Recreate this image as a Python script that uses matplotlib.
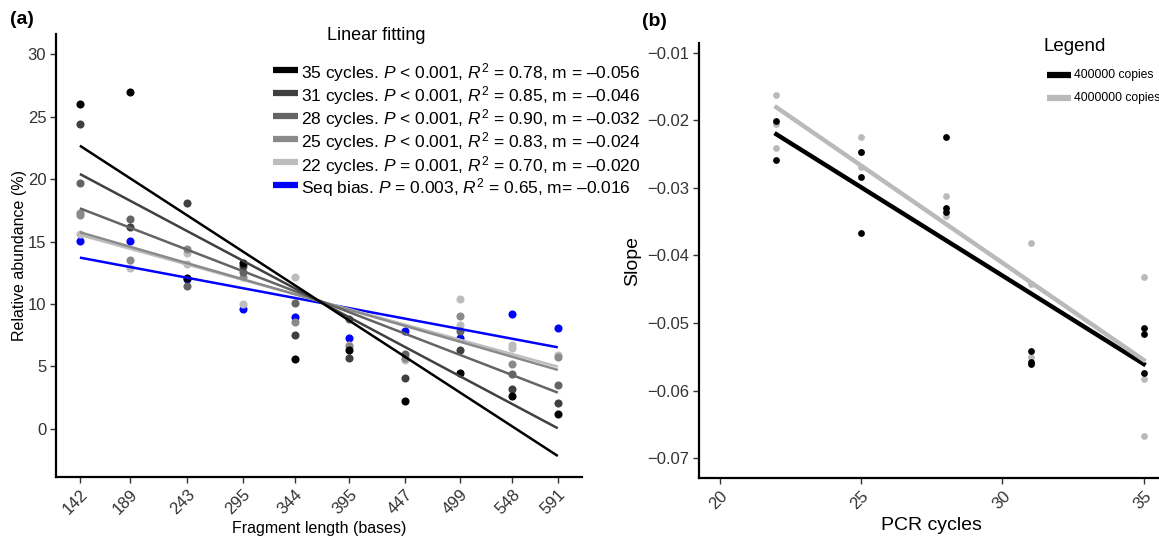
import numpy as np
import matplotlib
matplotlib.use("Agg")
import matplotlib.pyplot as plt
from matplotlib.lines import Line2D

plt.rcParams['font.family'] = ['Liberation Sans', 'DejaVu Sans']
plt.rcParams['mathtext.fontset'] = 'custom'
plt.rcParams['mathtext.rm'] = 'Liberation Sans'
plt.rcParams['mathtext.it'] = 'Liberation Sans:italic'
plt.rcParams['axes.unicode_minus'] = True

# ---------------- Panel (a) data ----------------
frag_len = [142, 189, 243, 295, 344, 395, 447, 499, 548, 591]
series_names = ["35 cycles", "31 cycles", "28 cycles", "25 cycles", "22 cycles", "Seq bias"]
series_colors = ["#000000", "#404040", "#646464", "#8a8a8a", "#bdbdbd", "#0000ff"]
ab_35 = [26.02, 26.99, 12.05, 13.3, 5.56, 6.31, 2.22, 4.44, 2.65, 1.15]
ab_31 = [24.42, 16.14, 18.07, 13.04, 7.51, 5.64, 4.04, 6.31, 3.18, 2.04]
ab_28 = [19.72, 16.78, 11.44, 12.58, 10.05, 8.77, 5.99, 7.83, 4.38, 3.50]
ab_25 = [17.26, 13.52, 14.38, 12.18, 8.53, 6.60, 5.70, 9.03, 5.19, 5.77]
ab_22 = [15.58, 12.86, 14.06, 9.99, 12.13, 6.71, 5.50, 10.42, 6.71, 5.91]
ab_seq = [15.04, 15.04, 12.00, 9.57, 8.93, 7.24, 7.86, 7.24, 9.19, 8.09]
# additional replicate points (series index, fragment length, abundance)
extra_pts = [(3, 142, 17.10), (4, 243, 13.20), (4, 499, 8.31), (4, 548, 6.44)]
# fitted lines: value at first and last fragment length
fit_start = [22.68, 20.41, 17.66, 15.74, 15.52, 13.71]
fit_end = [-2.19, 0.03, 2.89, 4.71, 4.97, 6.52]
legend_labels = [
    "35 cycles. $P$ < 0.001, $R^2$ = 0.78, m = \u20130.056",
    "31 cycles. $P$ < 0.001, $R^2$ = 0.85, m = \u20130.046",
    "28 cycles. $P$ < 0.001, $R^2$ = 0.90, m = \u20130.032",
    "25 cycles. $P$ < 0.001, $R^2$ = 0.83, m = \u20130.024",
    "22 cycles. $P$ = 0.001, $R^2$ = 0.70, m = \u20130.020",
    "Seq bias. $P$ = 0.003, $R^2$ = 0.65, m= \u20130.016",
]
ab_series = [ab_35, ab_31, ab_28, ab_25, ab_22, ab_seq]

# ---------------- Panel (b) data ----------------
b_labels = ["400000 copies", "4000000 copies"]
b_colors = ["#000000", "#bababa"]
b_black_x = [22, 22, 25, 25, 25, 28, 28, 28, 31, 31, 31, 35, 35, 35]
b_black_y = [-0.0201, -0.02587, -0.0247, -0.02834, -0.03663, -0.02243, -0.0330, -0.0335,
             -0.05408, -0.05571, -0.05605, -0.05077, -0.05161, -0.05743]
b_gray_x = [22, 22, 22, 25, 25, 25, 28, 28, 31, 31, 31, 35, 35, 35]
b_gray_y = [-0.01626, -0.02059, -0.0241, -0.02251, -0.02464, -0.02686, -0.0312, -0.03416,
            -0.0382, -0.04422, -0.05497, -0.04323, -0.05827, -0.06666]
b_fit_x = [22, 35]
b_fit_black = [-0.02207, -0.05605]
b_fit_gray = [-0.01808, -0.05546]

W, H = 1159, 539
fig = plt.figure(figsize=(W / 100, H / 100), dpi=100)

def ax_rect(l, t, r, b):
    return [l / W, 1 - b / H, (r - l) / W, (b - t) / H]

tick_col = "#333333"

def style(ax):
    for s in ["top", "right"]:
        ax.spines[s].set_visible(False)
    for s in ["left", "bottom"]:
        ax.spines[s].set_linewidth(1.6)
        ax.spines[s].set_color("black")
    ax.tick_params(axis="both", length=4, width=1, color=tick_col,
                   labelcolor=tick_col, labelsize=12, pad=3)

# ---------- Panel (a) ----------
ax = fig.add_axes(ax_rect(56, 34.4, 581.7, 476.7))
style(ax)
order = [5, 4, 3, 2, 1, 0]
for i in order:
    ax.scatter(frag_len, ab_series[i], s=34, color=series_colors[i], zorder=2 + (5 - i) * 0.01,
               linewidths=0)
for (si, xx, yy) in extra_pts:
    ax.scatter([xx], [yy], s=34, color=series_colors[si], zorder=2, linewidths=0)
for i in order:
    ax.plot([frag_len[0], frag_len[-1]], [fit_start[i], fit_end[i]], color=series_colors[i],
            lw=1.8, zorder=3, solid_capstyle="butt")
ax.set_xlim(119.55, 613.45)
ax.set_ylim(-3.85, 31.6)
ax.set_xticks(frag_len)
ax.set_xticklabels([str(v) for v in frag_len], rotation=45, ha="right", rotation_mode="anchor")
ax.set_yticks([0, 5, 10, 15, 20, 25, 30])
ax.set_xlabel("Fragment length (bases)", fontsize=11.5, labelpad=3)
ax.set_ylabel("Relative abundance (%)", fontsize=11.5)
ax.yaxis.set_label_coords((27 - 56) / 525.7, 0.5)

def fx(px):
    return px / W

def fy(py):
    return 1 - py / H

fig.text(fx(10), fy(20), "(a)", fontsize=14, fontweight="bold", va="center", ha="left")
fig.text(fx(376.7), fy(35), "Linear fitting", fontsize=13, ha="center", va="center")
ys = [70, 92.7, 115.7, 139, 162.3, 185]
for i, yy in enumerate(ys):
    fig.add_artist(Line2D([fx(273), fx(298)], [fy(yy), fy(yy)], color=series_colors[i],
                          lw=4.5, transform=fig.transFigure, solid_capstyle="butt"))
    fig.text(fx(301), fy(yy), legend_labels[i], fontsize=12.5, ha="left", va="center_baseline")

# ---------- Panel (b) ----------
bx = fig.add_axes(ax_rect(698.7, 42.7, 1164.9, 478.3))
style(bx)
bx.scatter(b_gray_x, b_gray_y, s=24, color=b_colors[1], linewidths=0, zorder=2)
bx.scatter(b_black_x, b_black_y, s=24, color=b_colors[0], linewidths=0, zorder=2)
bx.plot(b_fit_x, b_fit_black, color=b_colors[0], lw=3.2, zorder=3)
bx.plot(b_fit_x, b_fit_gray, color=b_colors[1], lw=3.2, zorder=3)
bx.set_xlim(19.25, 35.75)
bx.set_ylim(-0.07296, -0.00852)
bx.set_xticks([20, 25, 30, 35])
bx.set_xticklabels(["20", "25", "30", "35"], rotation=45, ha="right", rotation_mode="anchor")
bx.set_yticks([-0.07, -0.06, -0.05, -0.04, -0.03, -0.02, -0.01])
bx.set_yticklabels(["\u22120.07", "\u22120.06", "\u22120.05", "\u22120.04", "\u22120.03",
                    "\u22120.02", "\u22120.01"])
bx.set_xlabel("PCR cycles", fontsize=14, labelpad=4)
bx.set_ylabel("Slope", fontsize=14, labelpad=4)

fig.text(fx(642), fy(21), "(b)", fontsize=14, fontweight="bold", va="center", ha="left")
fig.text(fx(1043.8), fy(46.7), "Legend", fontsize=13.5, ha="left", va="center")
for i, yy in enumerate([75, 97.7]):
    fig.add_artist(Line2D([fx(1046.7), fx(1070.6)], [fy(yy), fy(yy)], color=b_colors[i],
                          lw=4.5, transform=fig.transFigure, solid_capstyle="butt"))
    fig.text(fx(1074), fy(yy), b_labels[i], fontsize=8.7, ha="left", va="center")

fig.savefig("out.png", dpi=100)
